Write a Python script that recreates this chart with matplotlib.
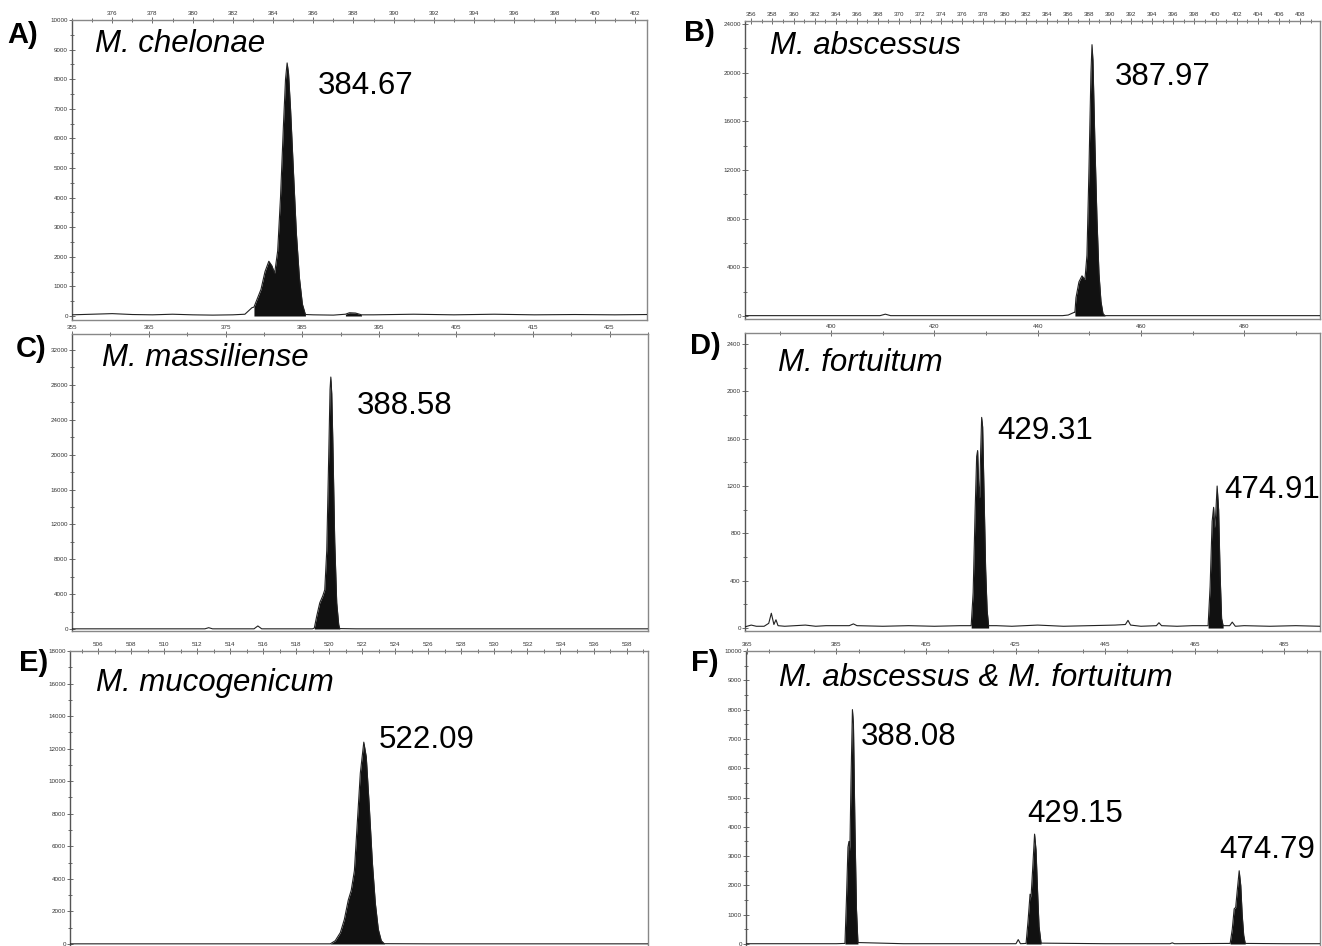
import matplotlib
matplotlib.use('Agg')
import matplotlib.pyplot as plt
import numpy as np
from matplotlib.ticker import FixedLocator, MultipleLocator

plt.rcParams['font.family'] = ['Liberation Sans', 'DejaVu Sans']

# ---------------- data ----------------
panel_letters = ['A)', 'B)', 'C)', 'D)', 'E)', 'F)']
species = ['M. chelonae', 'M. abscessus', 'M. massiliense', 'M. fortuitum',
           'M. mucogenicum', 'M. abscessus & M. fortuitum']

# Panel A: M. chelonae
a_x = [374.0, 375.0, 376.0, 377.0, 378.0, 379.0, 380.0, 381.0, 382.0, 382.6, 382.95, 383.05,
       383.4, 383.6, 383.79, 383.94, 384.08, 384.23, 384.37, 384.52, 384.62, 384.70, 384.77,
       384.87, 385.02, 385.16, 385.31, 385.46, 385.61,
       386.0, 387.0, 387.6, 387.8, 388.1, 388.4, 389.0, 391.0, 393.0, 395.0, 397.0, 399.0, 401.0, 402.6]
a_y = [40, 60, 80, 50, 40, 60, 40, 30, 40, 60, 280, 300,
       900, 1500, 1850, 1700, 1450, 2200, 4000, 6500, 8000, 8550, 8200,
       7000, 4800, 2800, 1300, 400, 50,
       40, 30, 60, 110, 100, 40, 40, 60, 40, 60, 40, 50, 40, 50]
a_fills = [(383.05, 385.61), (387.6, 388.4)]
a_labels = ['384.67']

# Panel B: M. abscessus
b_x = [355.4, 362.0, 368.2, 368.7, 369.2, 375.0, 381.0, 385.5, 386.03, 386.6, 386.67,
       386.77, 387.05, 387.34, 387.62, 387.81, 388.0, 388.19, 388.29, 388.38, 388.57, 388.76,
       388.95, 389.14, 389.33, 389.52, 395.0, 402.0, 409.9]
b_y = [30, 30, 30, 150, 30, 30, 30, 30, 80, 300, 300,
       1500, 2800, 3300, 3000, 5000, 12000, 20000, 22300, 21000, 14000, 8000,
       3500, 1200, 200, 30, 30, 30, 30]
b_fills = [(386.67, 389.52)]
b_labels = ['387.97']

# Panel C: M. massiliense
c_x = [355.0, 362.0, 368.0, 372.3, 372.8, 373.3, 377.0, 378.7, 379.2, 379.7, 383.0, 386.3,
       386.55, 386.87, 387.26, 387.65, 387.91, 388.17, 388.43, 388.60, 388.70, 388.82, 388.95,
       389.21, 389.47, 389.73, 389.86, 392.0, 400.0, 410.0, 420.0, 430.0]
c_y = [20, 20, 20, 20, 150, 20, 20, 20, 350, 20, 20, 20,
       100, 1500, 3000, 3800, 4500, 9000, 20000, 27500, 28900, 27000, 22000,
       10000, 3000, 500, 50, 20, 20, 20, 20, 20]
c_fills = [(386.55, 389.86)]
c_labels = ['388.58']

# Panel D: M. fortuitum
d_x = [383.3, 384.5, 385.5, 387.0, 387.9, 388.4, 388.9, 389.3, 389.7, 391.0, 393.0, 395.0,
       397.0, 399.0, 403.5, 404.3, 405.0, 410.0, 415.0, 420.0, 425.0,
       427.12, 427.5, 427.89, 428.18, 428.37, 428.57, 428.76, 428.96, 429.15, 429.34, 429.63,
       429.92, 430.21, 430.5,
       432.0, 435.0, 440.0, 445.0, 450.0, 455.0, 457.0, 457.5, 458.0, 460.0, 463.0, 463.5,
       464.0, 467.0, 470.0,
       473.02, 473.41, 473.8, 474.09, 474.28, 474.48, 474.77, 475.06, 475.35, 475.64, 475.93,
       477.2, 477.7, 478.3, 480.0, 485.0, 490.0, 494.7]
d_y = [10, 25, 15, 15, 40, 125, 30, 70, 20, 15, 20, 25,
       15, 20, 20, 35, 20, 15, 20, 15, 20,
       20, 300, 1000, 1450, 1500, 1200, 1100, 1500, 1780, 1700, 1100,
       500, 150, 20,
       20, 15, 25, 15, 20, 25, 30, 65, 25, 15, 20, 45,
       20, 15, 20,
       20, 350, 900, 1020, 850, 950, 1200, 1000, 450, 80, 20,
       20, 50, 15, 20, 15, 20, 15]
d_fills = [(427.12, 430.5), (473.02, 475.93)]
d_labels = ['429.31', '474.91']

# Panel E: M. mucogenicum
e_x = [504.3, 510.0, 515.0, 519.8, 520.06, 520.36, 520.67, 520.91, 521.15, 521.33, 521.52,
       521.70, 521.88, 522.09, 522.24, 522.42, 522.61, 522.79, 522.97, 523.15, 523.33,
       526.0, 532.0, 539.3]
e_y = [10, 10, 10, 10, 10, 200, 700, 1500, 2700, 3300, 4500,
       7500, 10500, 12400, 11500, 8500, 5000, 2500, 900, 200, 20,
       10, 10, 10]
e_fills = [(520.06, 523.33)]
e_labels = ['522.09']

# Panel F: M. abscessus & M. fortuitum
f_x = [364.8, 375.0, 385.0, 386.9, 387.23, 387.57, 387.79, 388.0, 388.24, 388.57, 388.8,
       389.13, 389.47, 389.8, 400.0, 415.0, 425.1, 425.6, 426.1, 427.35, 427.8, 428.24,
       428.46, 428.8, 429.25, 429.58, 429.92, 430.25, 430.7, 445.0, 459.5, 460.0, 460.5,
       472.93, 473.4, 473.83, 474.17, 474.5, 474.95, 475.3, 475.62, 475.96, 476.3,
       485.0, 493.0]
f_y = [10, 10, 10, 20, 1500, 3300, 3500, 3200, 5500, 8000, 7500,
       4000, 1200, 50, 10, 10, 10, 150, 10, 20, 800, 1700,
       1600, 2500, 3750, 3200, 1800, 600, 30, 10, 10, 40, 10,
       20, 500, 1200, 1250, 1800, 2500, 2000, 1000, 300, 20,
       10, 10]
f_fills = [(386.9, 389.8), (427.35, 430.7), (472.93, 476.3)]
f_labels = ['388.08', '429.15', '474.79']

# tick values
a_xticks = list(range(376, 403, 2)); a_yticks = list(range(0, 10001, 1000))
b_xticks = list(range(356, 409, 2)); b_yticks = list(range(0, 24001, 4000))
c_xticks = list(range(355, 426, 10)); c_yticks = list(range(0, 32001, 4000))
d_xticks = list(range(400, 481, 20)); d_yticks = list(range(0, 2401, 400))
e_xticks = list(range(506, 539, 2)); e_yticks = list(range(0, 18001, 2000))
f_xticks = list(range(365, 486, 20)); f_yticks = list(range(0, 10001, 1000))

# ---------------- layout ----------------
W, H = 1322, 946
fig = plt.figure(figsize=(W / 100, H / 100), dpi=100)


def px_axes(l, r, t, b):
    return fig.add_axes([l / W, 1 - b / H, (r - l) / W, (b - t) / H])


def ftext(px, py, s, **kw):
    fig.text(px / W, 1 - py / H, s, **kw)


panels = [
    dict(box=(72, 647, 20, 320), x=a_x, y=a_y, fills=a_fills, xlim=(374.0, 402.6),
         ylim=(-135, 10000), xt=a_xticks, xminor=1, yt=a_yticks, yminor=500, bottom=True),
    dict(box=(745, 1320, 21, 319), x=b_x, y=b_y, fills=b_fills, xlim=(355.4, 409.9),
         ylim=(-246, 24246), xt=b_xticks, xminor=1, yt=b_yticks, yminor=2000, bottom=True),
    dict(box=(72, 648, 334, 631), x=c_x, y=c_y, fills=c_fills, xlim=(355.0, 430.0),
         ylim=(-229, 33835), xt=c_xticks, xminor=5, yt=c_yticks, yminor=2000, bottom=True),
    dict(box=(745, 1320, 333, 631), x=d_x, y=d_y, fills=d_fills, xlim=(383.3, 494.7),
         ylim=(-25, 2493), xt=d_xticks, xminor=10, yt=d_yticks, yminor=200, bottom=True),
    dict(box=(70, 648, 651, 946), x=e_x, y=e_y, fills=e_fills, xlim=(504.3, 539.3),
         ylim=(-123, 18000), xt=e_xticks, xminor=1, yt=e_yticks, yminor=1000, bottom=False),
    dict(box=(746, 1320, 651, 946), x=f_x, y=f_y, fills=f_fills, xlim=(364.8, 493.0),
         ylim=(-68, 10000), xt=f_xticks, xminor=10, yt=f_yticks, yminor=500, bottom=False),
]

tick_family = ['Liberation Sans Narrow', 'Liberation Sans', 'DejaVu Sans']

for p in panels:
    ax = px_axes(*p['box'])
    x = np.asarray(p['x'], float)
    y = np.asarray(p['y'], float)
    ax.plot(x, y, color='#222222', lw=0.8, zorder=3)
    for s, e in p['fills']:
        m = (x >= s) & (x <= e)
        ax.fill_between(x[m], y[m], 0, color='#111111', lw=0, zorder=2)
    ax.set_xlim(*p['xlim'])
    ax.set_ylim(*p['ylim'])
    ax.xaxis.tick_top()
    ax.xaxis.set_major_locator(FixedLocator(p['xt']))
    ax.xaxis.set_minor_locator(MultipleLocator(p['xminor']))
    ax.set_xticklabels([str(v) for v in p['xt']])
    ax.yaxis.set_major_locator(FixedLocator(p['yt']))
    ax.yaxis.set_minor_locator(MultipleLocator(p['yminor']))
    ax.set_yticklabels([str(v) for v in p['yt']])
    ax.tick_params(axis='both', which='both', direction='inout', color='#555555',
                   width=0.6, labelsize=4.5, labelcolor='#333333', pad=1)
    ax.tick_params(axis='both', which='major', length=4)
    ax.tick_params(axis='both', which='minor', length=3)
    for lab in ax.get_xticklabels() + ax.get_yticklabels():
        lab.set_family(tick_family)
    for side, sp in ax.spines.items():
        sp.set_linewidth(1.0)
        sp.set_color('#888888')
    ax.spines['left'].set_color('#555555')
    if not p['bottom']:
        ax.spines['bottom'].set_visible(False)
    ax.set_facecolor('white')

# panel letters
letter_pos = [(7, 35), (684, 33), (16, 349), (690, 346), (19, 663), (691, 663)]
for (px, py), s in zip(letter_pos, panel_letters):
    ftext(px, py, s, fontsize=21, fontweight='bold', va='center', ha='left')

# species names
species_pos = [(95, 44), (770, 46), (102, 358), (778, 363), (96, 683), (779, 678)]
for (px, py), s in zip(species_pos, species):
    ftext(px, py, s, fontsize=22.5, fontstyle='italic', va='center', ha='left')

# peak labels
peak_labels = a_labels + b_labels + c_labels + d_labels + e_labels + f_labels
peak_pos = [(318, 86), (1115, 77), (357, 406), (997, 431), (1224, 490), (379, 740),
            (861, 737), (1027, 814), (1219, 850)]
for (px, py), s in zip(peak_pos, peak_labels):
    ftext(px, py, s, fontsize=22.5, va='center', ha='left')

fig.savefig('out.png', dpi=100, facecolor='white')
